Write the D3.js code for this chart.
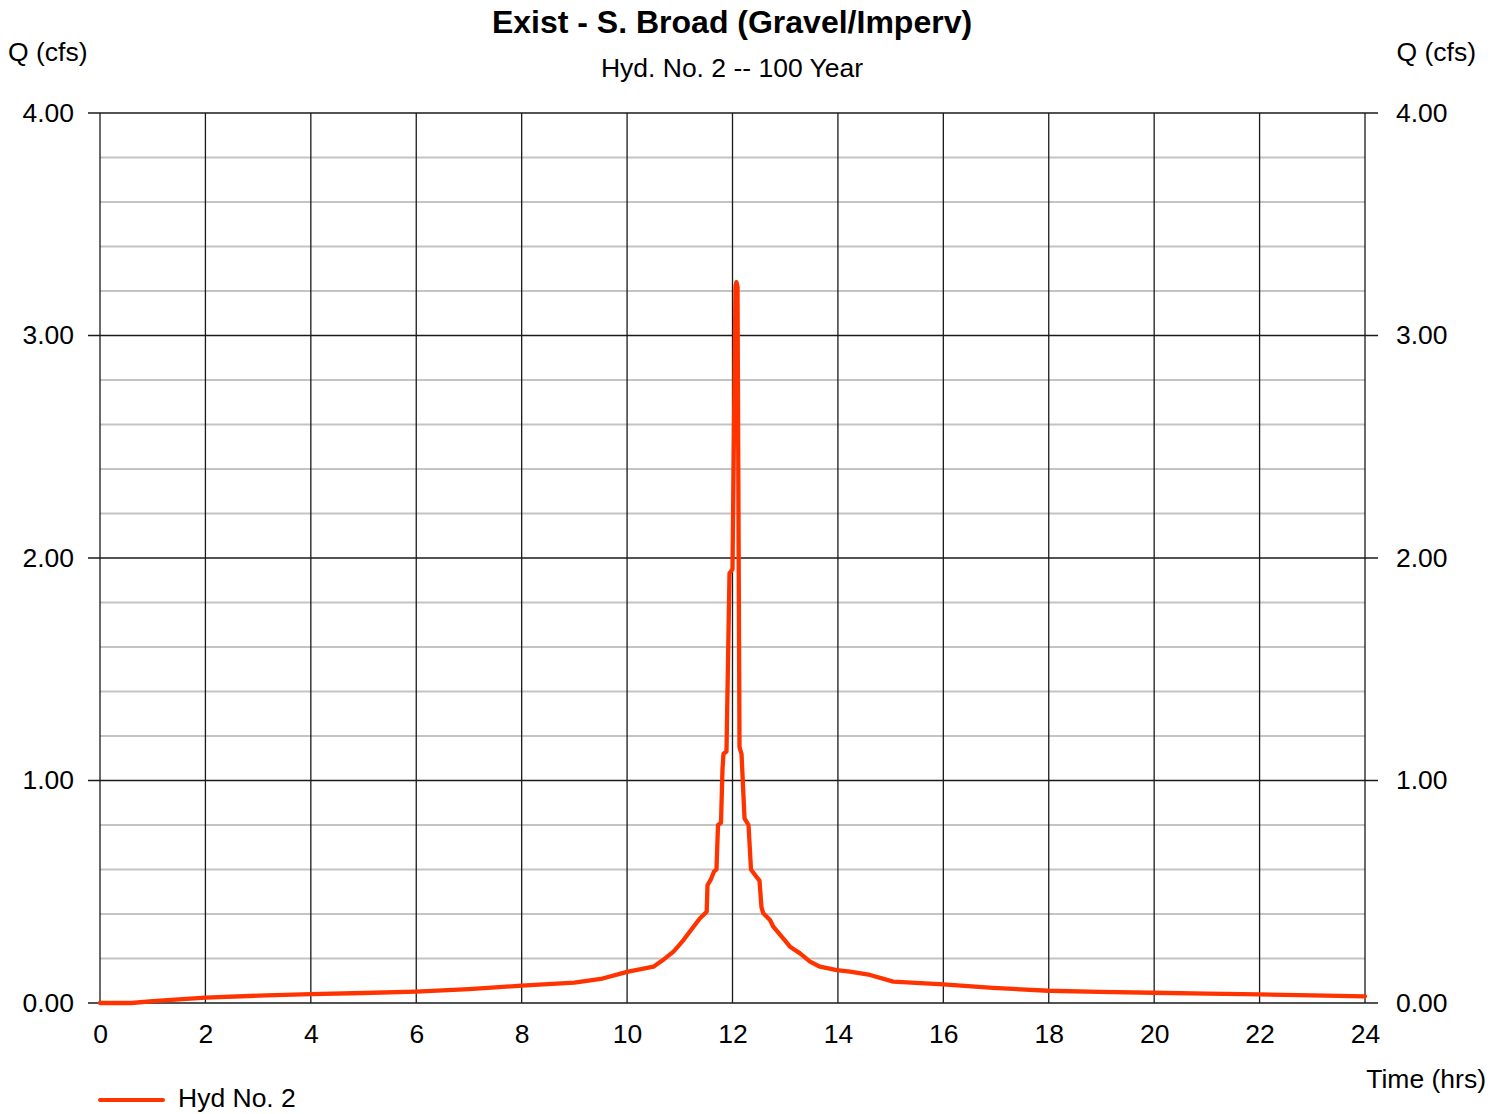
<!DOCTYPE html>
<html>
<head>
<meta charset="utf-8">
<script src="https://cdn.jsdelivr.net/npm/d3@7"></script>
<style>
  body { margin: 0; background: #fff; }
  svg text { font-family: "Liberation Sans", Arial, sans-serif; fill: #000; }
</style>
</head>
<body>
<svg class="chart"></svg>
<script>
// hydrograph, time (hrs) and flow (cfs)
var hours = [0, 0.6, 1.0, 1.5, 2.0, 3.0, 4.0, 5.0, 6.0, 7.0, 8.0, 9.0, 9.5, 10.0, 10.5,
  10.68, 10.88, 11.07, 11.26, 11.38, 11.51, 11.526, 11.585, 11.648, 11.696, 11.725, 11.782,
  11.81, 11.829, 11.886, 11.943, 12.0, 12.057, 12.074, 12.095, 12.133, 12.171, 12.228, 12.304,
  12.351, 12.446, 12.512, 12.55, 12.584, 12.711, 12.774, 12.933, 13.091, 13.281, 13.471,
  13.66, 13.977, 14.23, 14.61, 15.05, 16.0, 16.94, 17.99, 18.97, 19.98, 21.0, 22.0, 23.0, 24.0];
var flow = [0, 0, 0.008, 0.016, 0.024, 0.033, 0.040, 0.045, 0.051, 0.062, 0.078, 0.092, 0.108, 0.140, 0.163,
  0.193, 0.231, 0.283, 0.343, 0.38, 0.41, 0.53, 0.553, 0.59, 0.60, 0.80, 0.81,
  1.05, 1.12, 1.13, 1.93, 1.95, 3.22, 3.24, 3.22, 1.15, 1.12, 0.83, 0.80,
  0.60, 0.57, 0.55, 0.43, 0.403, 0.373, 0.343, 0.298, 0.253, 0.223, 0.186,
  0.163, 0.148, 0.141, 0.126, 0.096, 0.084, 0.068, 0.055, 0.050, 0.046, 0.042, 0.039, 0.034, 0.03];

var xTicks = [0, 2, 4, 6, 8, 10, 12, 14, 16, 18, 20, 22, 24];
var yTicks = [0, 1, 2, 3, 4];
var yMinor = [0.2, 0.4, 0.6, 0.8, 1.2, 1.4, 1.6, 1.8, 2.2, 2.4, 2.6, 2.8, 3.2, 3.4, 3.6, 3.8];

var margin = {top: 113, right: 136, bottom: 111, left: 100};
var W = 1501, H = 1114;
var width = W - margin.left - margin.right,
    height = H - margin.top - margin.bottom;

var svg = d3.select(".chart").attr("width", W).attr("height", H);
var chart = svg.append("g")
    .attr("transform", "translate(" + margin.left + "," + margin.top + ")");

var x = d3.scaleLinear().domain([0, 24]).range([0, width]);
var y = d3.scaleLinear().domain([0, 4]).range([height, 0]);

// minor grid
chart.selectAll(".minor").data(yMinor).enter().append("line")
    .attr("x1", 0).attr("x2", width)
    .attr("y1", function(d) { return y(d); }).attr("y2", function(d) { return y(d); })
    .attr("stroke", "#c4c4c4").attr("stroke-width", 2);

// major grid
chart.selectAll(".vgrid").data(xTicks).enter().append("line")
    .attr("x1", function(d) { return x(d); }).attr("x2", function(d) { return x(d); })
    .attr("y1", 0).attr("y2", height)
    .attr("stroke", "#1a1a1a").attr("stroke-width", 1.3);

chart.selectAll(".hgrid").data(yTicks).enter().append("line")
    .attr("x1", -12).attr("x2", width + 13)
    .attr("y1", function(d) { return y(d); }).attr("y2", function(d) { return y(d); })
    .attr("stroke", "#1a1a1a").attr("stroke-width", 1.3);

// axes labels
var yLeft = d3.axisLeft(y).tickValues(yTicks).tickFormat(d3.format(".2f")).tickSize(0).tickPadding(26);
var yRight = d3.axisRight(y).tickValues(yTicks).tickFormat(d3.format(".2f")).tickSize(0).tickPadding(31);
var xAxis = d3.axisBottom(x).tickValues(xTicks).tickFormat(d3.format("d")).tickSize(0).tickPadding(21);

[chart.append("g").call(yLeft),
 chart.append("g").attr("transform", "translate(" + width + ",0)").call(yRight),
 chart.append("g").attr("transform", "translate(0," + height + ")").call(xAxis)
].forEach(function(g) {
  g.select(".domain").remove();
  g.selectAll("text").style("font-size", "26.5px")
    .style("font-family", "'Liberation Sans', Arial, sans-serif");
});

// hydrograph line
var line = d3.line()
    .x(function(d, i) { return x(hours[i]); })
    .y(function(d) { return y(d); });

chart.append("path")
    .datum(flow)
    .attr("d", line)
    .attr("fill", "none")
    .attr("stroke", "#ff3300")
    .attr("stroke-width", 4.3)
    .attr("stroke-linejoin", "round")
    .attr("stroke-linecap", "round");

// titles
svg.append("text").attr("x", 732).attr("y", 33)
    .attr("text-anchor", "middle").style("font-size", "32px").style("font-weight", "bold")
    .text("Exist - S. Broad (Gravel/Imperv)");
svg.append("text").attr("x", 732).attr("y", 77)
    .attr("text-anchor", "middle").style("font-size", "26.5px")
    .text("Hyd. No. 2 -- 100 Year");
svg.append("text").attr("x", 8).attr("y", 61)
    .style("font-size", "26.5px").text("Q (cfs)");
svg.append("text").attr("x", 1476).attr("y", 61)
    .attr("text-anchor", "end").style("font-size", "26.5px").text("Q (cfs)");
svg.append("text").attr("x", 1486).attr("y", 1088)
    .attr("text-anchor", "end").style("font-size", "26.5px").text("Time (hrs)");

// legend
svg.append("line").attr("x1", 100).attr("x2", 163).attr("y1", 1100).attr("y2", 1100)
    .attr("stroke", "#ff3300").attr("stroke-width", 4).attr("stroke-linecap", "round");
svg.append("text").attr("x", 178).attr("y", 1107)
    .style("font-size", "26.5px").text("Hyd No. 2");
</script>
</body>
</html>
